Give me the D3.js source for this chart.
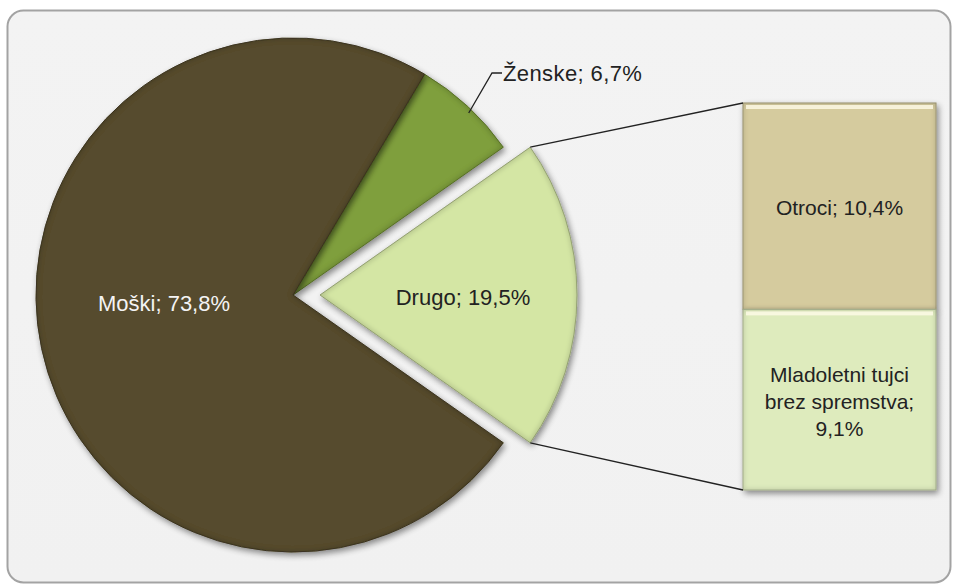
<!DOCTYPE html>
<html>
<head>
<meta charset="utf-8">
<script src="https://cdnjs.cloudflare.com/ajax/libs/d3/7.8.5/d3.min.js"></script>
<style>
  body { margin: 0; background: #fff; }
  text { font-family: "Liberation Sans", Arial, sans-serif; }
</style>
</head>
<body>
<div id="chart"></div>
<script>
// pie data (order as drawn clockwise, starting from Ženske)
var pieLabels = ["Ženske", "Drugo", "Moški"],
	pieValues = [6.7, 19.5, 73.8],
	pieColors = ["#7f9f3d", "#d4e6a4", "#564c2f"],
	pieText = ["#222", "#222", "#f4f4f4"];

// secondary bar (split of "Drugo")
var barLabels = ["Otroci; 10,4%", "Mladoletni tujci|brez spremstva;|9,1%"],
	barValues = [10.4, 9.1],
	barColors = ["#d5cb9e", "#deebbd"];

var width = 956,
	height = 584;

var cx = 293, cy = 295, radius = 257, explode = 27;

var svg = d3.select("#chart")
	.append("svg")
	.attr("width", width)
	.attr("height", height);

var defs = svg.append("defs");

// soft shadow + bevel look
var f = defs.append("filter").attr("id", "shade")
	.attr("x", "-10%").attr("y", "-10%").attr("width", "130%").attr("height", "130%");
f.append("feGaussianBlur").attr("in", "SourceAlpha").attr("stdDeviation", 3).attr("result", "blur");
f.append("feOffset").attr("in", "blur").attr("dx", 2).attr("dy", 3).attr("result", "off");
f.append("feComponentTransfer").attr("in", "off").attr("result", "shadow")
	.append("feFuncA").attr("type", "linear").attr("slope", 0.45);
// inner edge darkening
f.append("feMorphology").attr("in", "SourceAlpha").attr("operator", "erode").attr("radius", 2).attr("result", "er");
f.append("feGaussianBlur").attr("in", "er").attr("stdDeviation", 2).attr("result", "erb");
f.append("feComposite").attr("in", "SourceAlpha").attr("in2", "erb").attr("operator", "out").attr("result", "rim");
f.append("feFlood").attr("flood-color", "#000").attr("flood-opacity", 0.25).attr("result", "rc");
f.append("feComposite").attr("in", "rc").attr("in2", "rim").attr("operator", "in").attr("result", "rimc");
var m = f.append("feMerge");
m.append("feMergeNode").attr("in", "shadow");
m.append("feMergeNode").attr("in", "SourceGraphic");
m.append("feMergeNode").attr("in", "rimc");

// panel
var pg = defs.append("linearGradient").attr("id", "panelGrad")
	.attr("x1", 0).attr("y1", 0).attr("x2", 0).attr("y2", 1);
pg.append("stop").attr("offset", "0%").attr("stop-color", "#f3f3f3");
pg.append("stop").attr("offset", "100%").attr("stop-color", "#f1f1f1");

svg.append("rect")
	.attr("x", 7.5).attr("y", 10.5)
	.attr("width", 943).attr("height", 572)
	.attr("rx", 16)
	.attr("fill", "url(#panelGrad)")
	.attr("stroke", "#a3a3a3")
	.attr("stroke-width", 2);

var total = d3.sum(pieValues);
var startA = Math.PI / 2 - (pieValues[1] / 2 + pieValues[0]) / total * 2 * Math.PI;

var pie = d3.pie().sort(null)
	.startAngle(startA)
	.endAngle(startA + 2 * Math.PI);

var arcs = pie(pieValues);

var arc = d3.arc().innerRadius(0).outerRadius(radius);

var g = svg.append("g");

var slice = g.selectAll("g.slice")
	.data(arcs)
	.enter()
	.append("g")
	.attr("class", "slice")
	.attr("transform", function(d, i) {
		var dx = i == 1 ? explode : 0;
		return "translate(" + (cx + dx) + "," + cy + ")";
	});

slice.append("path")
	.attr("d", arc)
	.attr("fill", function(d, i) { return pieColors[i]; })
	.attr("stroke", function(d, i) { return d3.color(pieColors[i]).darker(0.7); })
	.attr("stroke-width", 1)
	.attr("filter", "url(#shade)");

// in-slice labels
slice.filter(function(d, i) { return i != 0; })
	.append("text")
	.attr("text-anchor", "middle")
	.attr("dy", "0.35em")
	.attr("transform", function(d, i) {
		if (pieLabels[d.index] == "Drugo") return "translate(143,2)";
		return "translate(-129,8)";
	})
	.attr("fill", function(d) { return pieText[d.index]; })
	.style("font-size", "22px")
	.text(function(d) {
		return pieLabels[d.index] + "; " + String(pieValues[d.index]).replace(".", ",") + "%";
	});

// Ženske label with leader
var zA = (arcs[0].startAngle + arcs[0].endAngle) / 2 + 0.02;
var zx = cx + Math.sin(zA) * (radius - 4),
	zy = cy - Math.cos(zA) * (radius - 4);
svg.append("polyline")
	.attr("points", [[zx, zy], [492, 73], [502, 73]].map(function(p) { return p.join(","); }).join(" "))
	.attr("fill", "none")
	.attr("stroke", "#222")
	.attr("stroke-width", 1.3);
svg.append("text")
	.attr("x", 503).attr("y", 73)
	.attr("dy", "0.35em")
	.attr("fill", "#222")
	.style("font-size", "22px")
	.style("letter-spacing", "0.4px")
	.text(pieLabels[0] + "; " + String(pieValues[0]).replace(".", ",") + "%");

// bar of pie
var barX = 743, barW = 193, barTop = 103, barBottom = 490;
var y = d3.scaleLinear().domain([0, d3.sum(barValues)]).range([barTop, barBottom]);
var stack = [];
var acc = 0;
barValues.forEach(function(v, i) {
	stack.push({ y0: acc, y1: acc + v, i: i });
	acc += v;
});

var bars = svg.append("g");
bars.selectAll("rect")
	.data(stack)
	.enter()
	.append("rect")
	.attr("x", barX)
	.attr("y", function(d) { return y(d.y0); })
	.attr("width", barW)
	.attr("height", function(d) { return y(d.y1) - y(d.y0); })
	.attr("fill", function(d) { return barColors[d.i]; })
	.attr("stroke", function(d) { return d3.color(barColors[d.i]).darker(0.6); })
	.attr("stroke-width", 1)
	.attr("filter", "url(#shade)");

// top highlight on each bar block
bars.selectAll("rect.hl")
	.data(stack)
	.enter()
	.append("rect")
	.attr("class", "hl")
	.attr("x", barX + 3)
	.attr("y", function(d) { return y(d.y0) + 2; })
	.attr("width", barW - 6)
	.attr("height", 4)
	.attr("fill", "#fffbe8")
	.attr("opacity", 0.8);

bars.selectAll("text")
	.data(stack)
	.enter()
	.append("text")
	.attr("text-anchor", "middle")
	.attr("fill", "#222")
	.style("font-size", "21px")
	.each(function(d) {
		var lines = barLabels[d.i].split("|");
		var mid = (y(d.y0) + y(d.y1)) / 2 + (d.i == 1 ? 2 : 1);
		var lh = 27;
		var t = d3.select(this);
		lines.forEach(function(l, k) {
			t.append("tspan")
				.attr("x", barX + barW / 2)
				.attr("y", mid + (k - (lines.length - 1) / 2) * lh)
				.attr("dy", "0.35em")
				.text(l);
		});
	});

// connector lines from exploded slice to bar
var dA = arcs[1];
var p1 = [cx + explode + Math.sin(dA.startAngle) * radius, cy - Math.cos(dA.startAngle) * radius],
	p2 = [cx + explode + Math.sin(dA.endAngle) * radius, cy - Math.cos(dA.endAngle) * radius];

svg.append("line")
	.attr("x1", p1[0]).attr("y1", p1[1])
	.attr("x2", barX).attr("y2", y(0))
	.attr("stroke", "#222").attr("stroke-width", 1.3);
svg.append("line")
	.attr("x1", p2[0]).attr("y1", p2[1])
	.attr("x2", barX).attr("y2", y(d3.sum(barValues)))
	.attr("stroke", "#222").attr("stroke-width", 1.3);
</script>
</body>
</html>
